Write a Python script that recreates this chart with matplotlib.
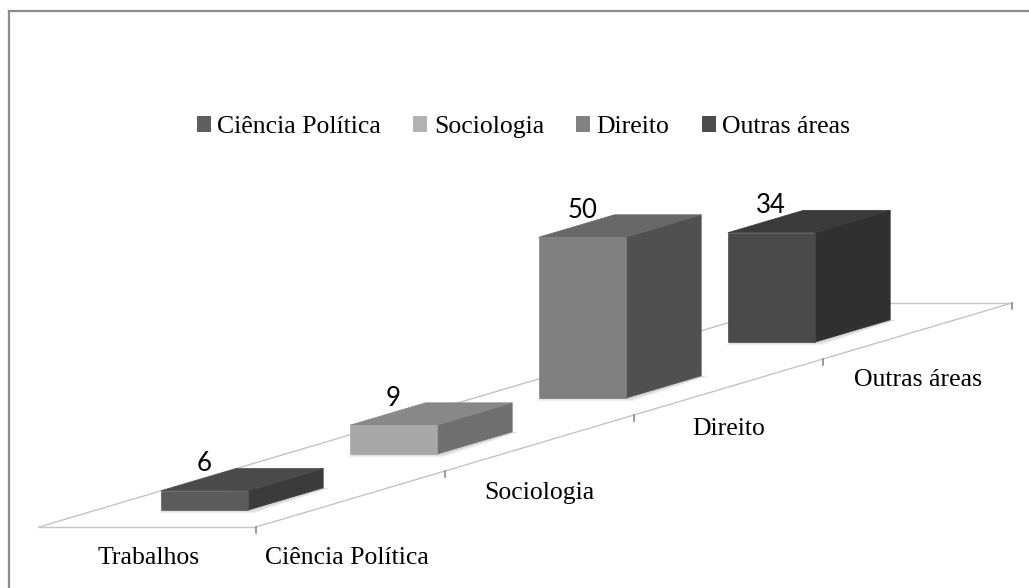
import matplotlib
matplotlib.use("Agg")
import matplotlib.pyplot as plt
from matplotlib.patches import Polygon, Patch
from matplotlib.font_manager import FontProperties

# ---- data ----
categories = ["Ciência Política", "Sociologia", "Direito", "Outras áreas"]
values = [6, 9, 50, 34]
category_label = "Trabalhos"

# ---- style ----
front_colors = ["#5b5b5b", "#a7a7a7", "#808080", "#4a4a4a"]
top_colors = ["#4a4a4a", "#888888", "#686868", "#3a3a3a"]
side_colors = ["#3b3b3b", "#6f6f6f", "#505050", "#303030"]
legend_colors = ["#5f5f5f", "#b3b3b3", "#828282", "#4d4d4d"]
SERIF = ["Liberation Serif", "DejaVu Serif"]

W, H = 1029, 588
fig = plt.figure(figsize=(W / 100, H / 100), dpi=100)
ax = fig.add_axes([0, 0, 1, 1])
ax.set_xlim(0, W)
ax.set_ylim(H, 0)
ax.axis("off")

# oblique projection of (category pos c, series depth s, height z)
ORIGIN = (39.0, 527.0)
CAT_VEC = (217.0, 0.0)
SER_VEC = (189.0, -56.0)
Z_SCALE = 3.22


def proj(c, s, z=0.0):
    x = ORIGIN[0] + CAT_VEC[0] * c + SER_VEC[0] * s
    y = ORIGIN[1] + CAT_VEC[1] * c + SER_VEC[1] * s - Z_SCALE * z
    return (x, y)


n = len(categories)
floor_col = "#c4c4c4"
# floor outline
for a, b in [((0, 0), (1, 0)), ((1, 0), (1, n)), ((0, 0), (0, n)), ((0, n), (1, n))]:
    p1, p2 = proj(*a), proj(*b)
    ax.plot([p1[0], p2[0]], [p1[1], p2[1]], color=floor_col, lw=1.0, zorder=1)

# ticks on series axis
for k in range(n + 1):
    x, y = proj(1, k)
    ax.plot([x, x], [y, y + 6], color="#8a8a8a", lw=1.2, zorder=1)

c0, c1 = 0.3, 0.7
d0, d1 = 0.3, 0.7
for i in range(n - 1, -1, -1):
    v = values[i]
    s0, s1 = i + d0, i + d1
    # soft shadow
    for k, a in enumerate([0.05, 0.05, 0.06]):
        g = 3 - k
        shp = [proj(c0, s0, 0), proj(c1, s0, 0), proj(c1, s1, 0), proj(c0, s1, 0)]
        shp = [(shp[0][0] - g, shp[0][1] + g), (shp[1][0] + 4 + g, shp[1][1] + g),
               (shp[2][0] + 4 + g, shp[2][1]), (shp[3][0], shp[3][1])]
        ax.add_patch(Polygon(shp, closed=True, facecolor="#000000", alpha=a,
                             edgecolor="none", zorder=2))
    front = [proj(c0, s0, 0), proj(c1, s0, 0), proj(c1, s0, v), proj(c0, s0, v)]
    top = [proj(c0, s0, v), proj(c1, s0, v), proj(c1, s1, v), proj(c0, s1, v)]
    side = [proj(c1, s0, 0), proj(c1, s1, 0), proj(c1, s1, v), proj(c1, s0, v)]
    for poly, col in [(side, side_colors[i]), (top, top_colors[i]), (front, front_colors[i])]:
        ax.add_patch(Polygon(poly, closed=True, facecolor=col, edgecolor=col,
                             lw=0.5, zorder=3))
    lx, ly = proj((c0 + c1) / 2, s0, v)
    ax.text(lx, ly - 27, str(v), ha="center", va="center", fontsize=18.5,
            family=["Lato", "DejaVu Sans"], color="#000000", zorder=5)

# series axis labels
label_dy = [59, 50, 42, 49]
for i, name in enumerate(categories):
    x, y = proj(1, i + 0.5)
    ax.text(x - (4 if i == 0 else 0), y + label_dy[i], name, ha="center", va="center",
            fontsize=18.5, family=SERIF, color="#000000")

# category axis label
x, y = proj(0.5, 0)
ax.text(x + 1, y + 31, category_label, ha="center", va="center",
        fontsize=18.5, family=SERIF, color="#000000")

# legend
handles = [Patch(facecolor=c, edgecolor="none") for c in legend_colors]
leg = ax.legend(handles, categories, loc="center", bbox_to_anchor=(523.5 / W, 1 - 127 / H),
                bbox_transform=fig.transFigure, ncol=4, frameon=False,
                prop=FontProperties(family=SERIF, size=18.5),
                handlelength=0.55, handleheight=0.55, handletextpad=0.25,
                columnspacing=1.25, borderaxespad=0, borderpad=0)
for t in leg.get_texts():
    t.set_fontfamily(SERIF)

# outer border (only top and left visible)
ax.plot([8.5, W], [10.5, 10.5], color="#8c8c8c", lw=1.6, zorder=0)
ax.plot([8.5, 8.5], [10.5, H], color="#8c8c8c", lw=1.6, zorder=0)

fig.savefig("out.png", dpi=100, facecolor="white")
